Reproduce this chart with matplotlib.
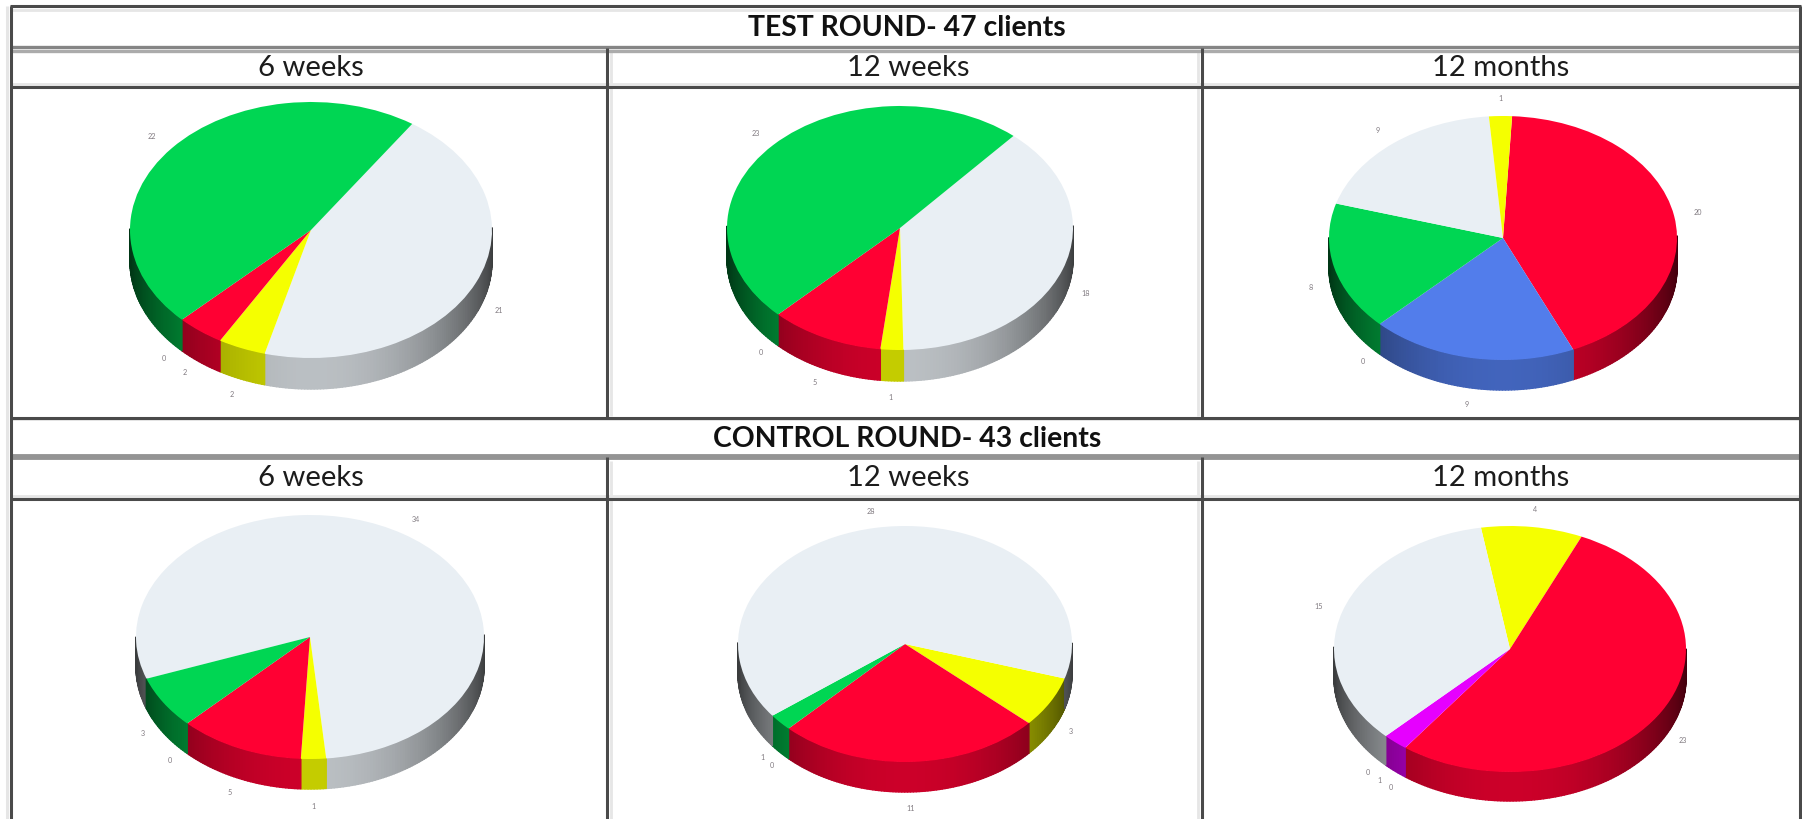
#!/usr/bin/env python3
"""Test and control rounds: client outcomes at 6 weeks, 12 weeks and 12 months, as tilted pies."""

import matplotlib

matplotlib.use("Agg")
import matplotlib.pyplot as plt
import numpy as np
from matplotlib.collections import PolyCollection
from matplotlib.colors import to_rgb

W, H = 1802, 819

ROUND_TITLES = ["TEST ROUND- 47 clients", "CONTROL ROUND- 43 clients"]
PERIODS = ["6 weeks", "12 weeks", "12 months"]

RED = "#FF0033"
BLUE = "#527DEB"
MAGENTA = "#E600FF"
GREEN = "#00D653"
PALE = "#E9EFF4"
YELLOW = "#F5FF00"

# slices in clockwise order
test_6w_values = [21, 2, 2, 0, 22]
test_6w_colors = [PALE, YELLOW, RED, BLUE, GREEN]
test_12w_values = [18, 1, 5, 0, 23]
test_12w_colors = [PALE, YELLOW, RED, BLUE, GREEN]
test_12m_values = [20, 9, 0, 8, 9, 1]
test_12m_colors = [RED, BLUE, MAGENTA, GREEN, PALE, YELLOW]
control_6w_values = [34, 1, 5, 0, 3]
control_6w_colors = [PALE, YELLOW, RED, BLUE, GREEN]
control_12w_values = [3, 11, 0, 1, 28]
control_12w_colors = [YELLOW, RED, BLUE, GREEN, PALE]
control_12m_values = [4, 23, 0, 1, 0, 15]
control_12m_colors = [YELLOW, RED, BLUE, MAGENTA, GREEN, PALE]

# start angle, centre x, centre y, rx, ry, wall depth (pixels)
PIES = [
    (test_6w_values, test_6w_colors, 56, 311, 230, 181, 128, 31),
    (test_12w_values, test_12w_colors, 49, 900, 228, 173, 122, 31),
    (test_12m_values, test_12m_colors, 87, 1503, 238, 174, 122, 30),
    (control_6w_values, control_6w_colors, 200, 310, 637, 174, 122, 30),
    (control_12w_values, control_12w_colors, -17, 905, 644, 167, 118, 30),
    (control_12m_values, control_12m_colors, 99.5, 1510, 649, 176, 123, 29),
]

DARK = "#4a4a4a"
LIGHT = "#e6e6e6"
FONT = "Lato"


def draw_wall(ax, values, colors, start, drop):
    """Shaded side of the pie, one thin quad per step of angle."""
    edges = start - np.cumsum([0] + values) * 360.0 / sum(values)
    quads, shades = [], []
    for v, c, a0, a1 in zip(values, colors, edges[:-1], edges[1:]):
        if v == 0:
            continue
        steps = np.arange(a0, a1, -1.0).tolist() + [a1]
        base = np.array(to_rgb(c))
        for t0, t1 in zip(steps[:-1], steps[1:]):
            s0, s1 = np.sin(np.radians(t0)), np.sin(np.radians(t1))
            if s0 > 0 and s1 > 0:
                continue
            x0, x1 = np.cos(np.radians(t0)), np.cos(np.radians(t1))
            quads.append([(x0, s0), (x1, s1), (x1, s1 - drop), (x0, s0 - drop)])
            mid = abs(np.sin(np.radians((t0 + t1) / 2)))
            shades.append(base * (0.25 + 0.55 * mid**1.5))
    wall = PolyCollection(quads, facecolors=shades, edgecolors=shades, linewidths=1.0, zorder=0)
    ax.add_collection(wall)
    wall.set_clip_on(False)


def draw_pie(fig, values, colors, start, cx, cy, rx, ry, depth):
    drop = depth / ry
    ax = fig.add_axes([(cx - rx) / W, 1 - (cy + ry + depth) / H, 2 * rx / W, (2 * ry + depth) / H])
    ax.patch.set_visible(False)
    draw_wall(ax, values, colors, start, drop)
    wedges, texts = ax.pie(
        values,
        colors=colors,
        labels=[str(v) for v in values],
        startangle=start,
        counterclock=False,
        labeldistance=1.14,
        textprops=dict(fontsize=5.2, color="#807a80", family=FONT),
    )
    for w in wedges:
        w.set_zorder(1)
    ax.set_aspect("auto")
    ax.set_xlim(-1, 1)
    ax.set_ylim(-1 - drop, 1)
    for t in texts:
        x, y = t.get_position()
        t.set_ha("center")
        t.set_va("center")
        if y < 0:
            # labels in the lower half sit below the wall
            t.set_position((x, y - drop * np.sqrt(min(1.0, abs(y) / 1.14))))


def main():
    fig = plt.figure(figsize=(W / 100, H / 100), dpi=100)
    bg = fig.add_axes([0, 0, 1, 1])
    bg.set_xlim(0, W)
    bg.set_ylim(H, 0)
    bg.axis("off")

    # faint bands next to the rules
    bg.vlines(7, 6, H, color=LIGHT, lw=2.2)
    for x in [611, 1198]:
        bg.vlines(x, 52, 416, color=LIGHT, lw=2)
        bg.vlines(x, 461, H, color=LIGHT, lw=2)
    bg.hlines([10, 84, 419, 496], 12, 1799, color=LIGHT, lw=2)

    # table rules
    bg.hlines([6, 87, 418, 499], 10, 1801, color=DARK, lw=2.2)
    bg.hlines(47, 10, 1801, color="#858585", lw=2.4)
    bg.hlines(50.5, 10, 1801, color="#ababab", lw=2.4)
    bg.hlines(457, 10, 1801, color="#949494", lw=4.2)
    bg.vlines([11, 1800], 6, H, color=DARK, lw=2.2)
    for x in [607, 1202]:
        bg.vlines(x, 48, 418, color=DARK, lw=2.2)
        bg.vlines(x, 457, H, color=DARK, lw=2.2)

    for title, y in zip(ROUND_TITLES, [28, 439]):
        bg.text(907, y, title, ha="center", va="center", fontsize=20.4, fontweight="bold",
                family=FONT, color="#111111")
    for y in [68, 478]:
        for period, x in zip(PERIODS, [311, 908, 1501]):
            bg.text(x, y, period, ha="center", va="center", fontsize=21, family=FONT, color="#1c1c1c")

    for values, colors, start, cx, cy, rx, ry, depth in PIES:
        draw_pie(fig, values, colors, start, cx, cy, rx, ry, depth)

    fig.savefig("out.png", dpi=100)
    plt.close(fig)


if __name__ == "__main__":
    main()
